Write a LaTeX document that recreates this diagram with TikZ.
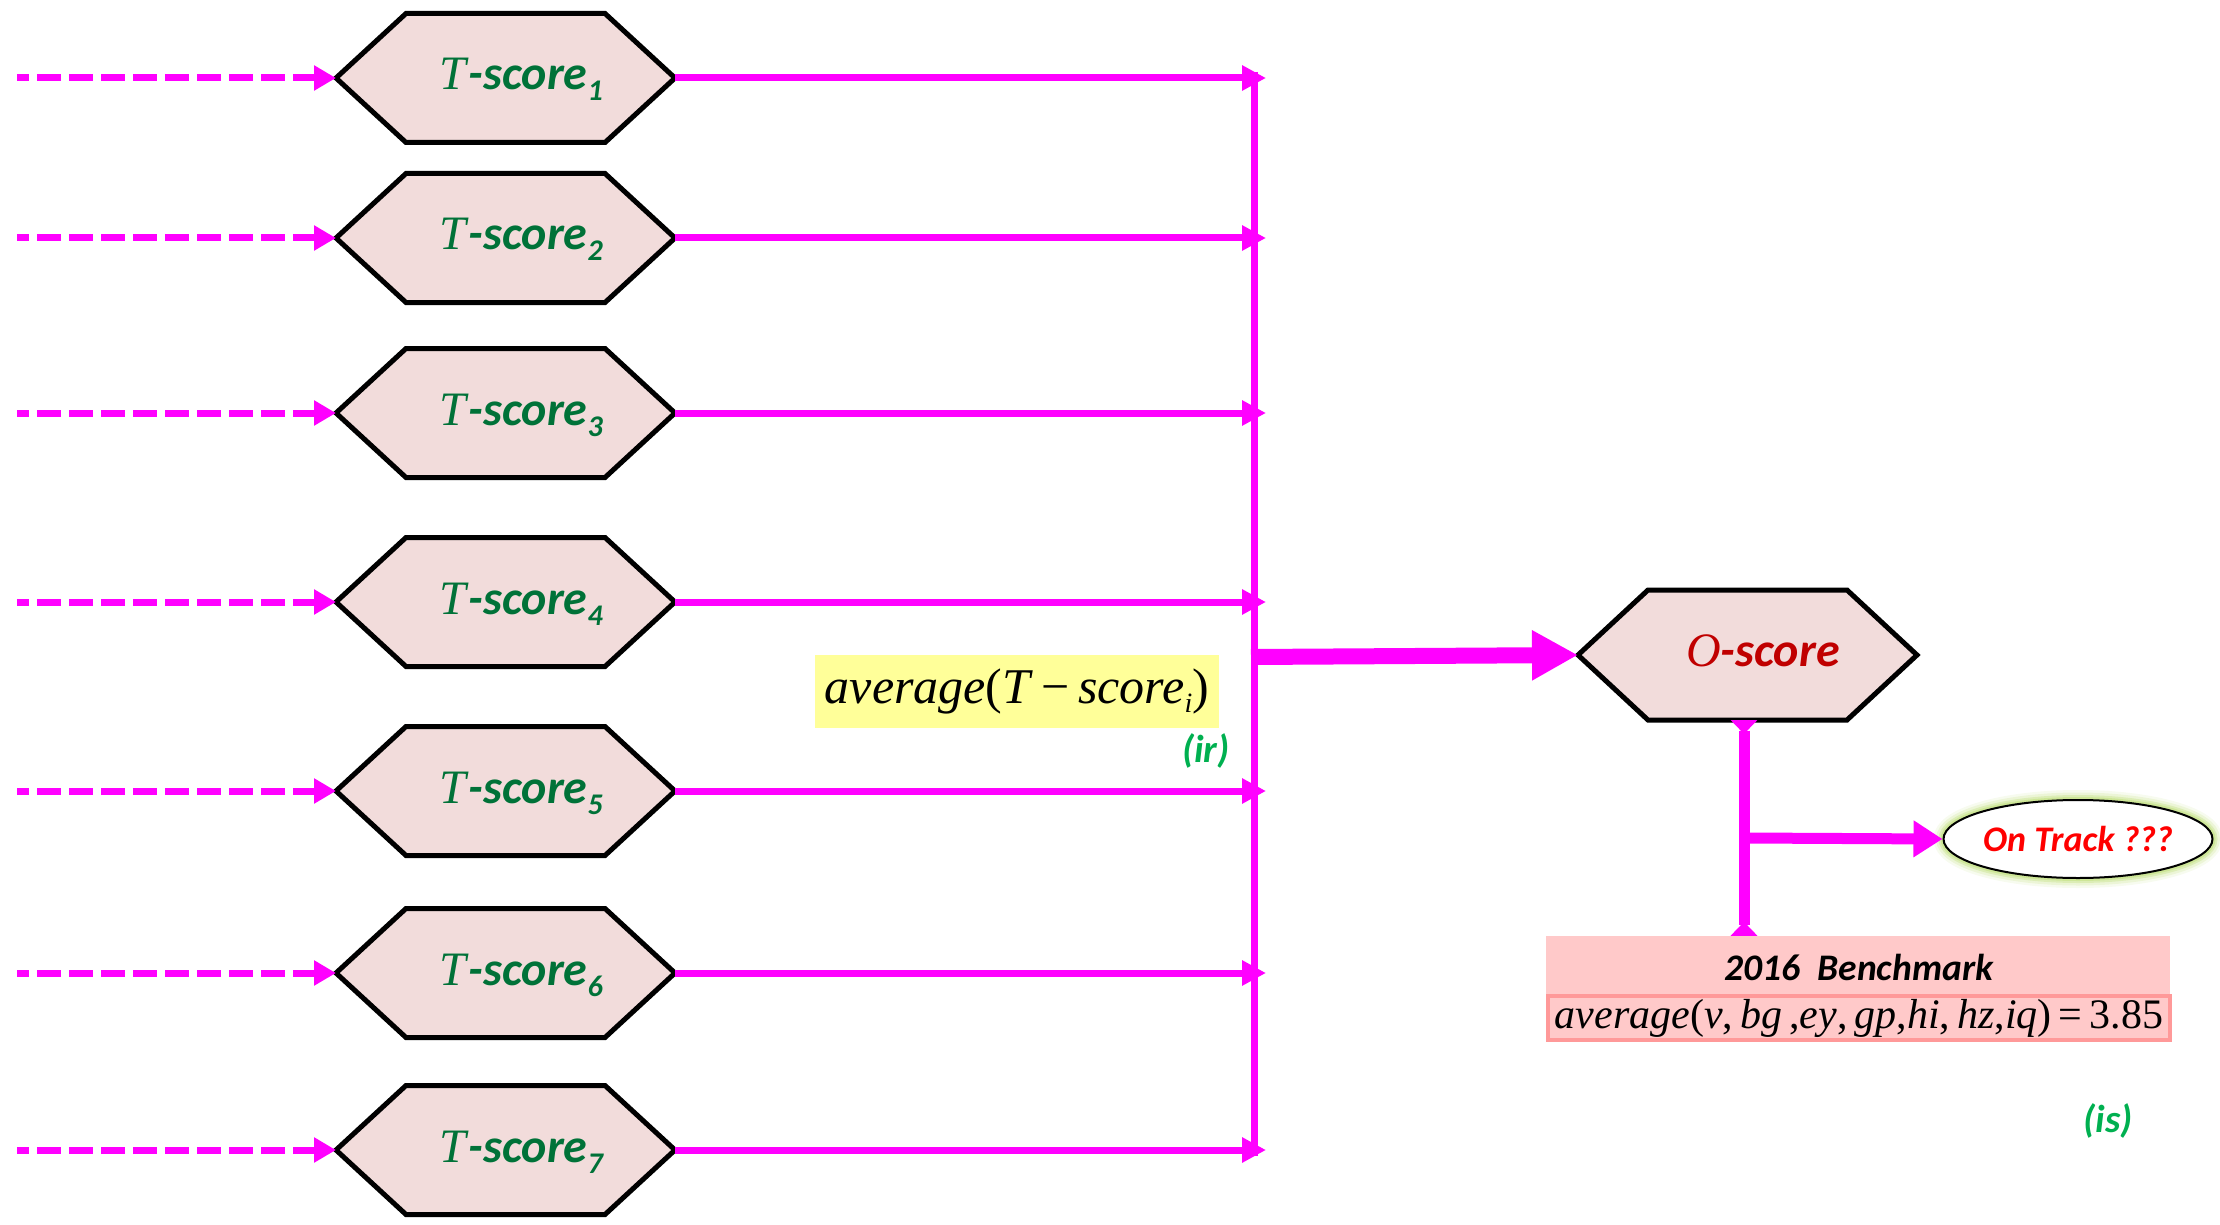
\documentclass[tikz,border=0pt]{standalone}
\usepackage{fontspec}
\setmainfont{Carlito}
\newfontfamily\tnr{Liberation Serif}
\usetikzlibrary{arrows.meta,shapes.geometric}
\definecolor{mag}{RGB}{255,0,255}
\definecolor{hexfill}{RGB}{242,220,219}
\definecolor{tgreen}{RGB}{0,114,56}
\definecolor{ored}{RGB}{192,0,0}
\definecolor{lgreen}{RGB}{0,176,80}
\definecolor{ylw}{RGB}{255,255,153}
\definecolor{bpink}{RGB}{255,201,201}
\definecolor{bborder}{RGB}{255,153,153}
\definecolor{glowc}{RGB}{190,222,120}
\newcommand\mi[1]{\textit{#1}}
\newcommand\tsc[1]{{\tnr\itshape T}\textbf{\textit{-score}}\raisebox{-11pt}{\fontsize{30}{30}\selectfont\bfseries\itshape #1}}
\newcommand\osc{{\tnr\itshape O}\textbf{\textit{-score}}}
\newcommand\hexa[6]{%
  \draw[hexbox] (#2-#4,#3) coordinate (#1w) -- (#2-#4+#5,#3-#6) -- (#2+#4-#5,#3-#6)
    -- (#2+#4,#3) coordinate (#1e) -- (#2+#4-#5,#3+#6) -- (#2-#4+#5,#3+#6) -- cycle;}
\tikzset{
  hexbox/.style={fill=hexfill, draw=black, line width=5pt, line join=miter},
  tlab/.style={text=tgreen, font=\fontsize{48}{50}\selectfont, anchor=base, inner sep=0pt},
  inarrow/.style={mag, line width=7pt, dash pattern=on 24pt off 8pt, dash phase=12pt, -{Triangle[length=22pt,width=24pt]}},
  outarrow/.style={mag, line width=7pt, -{Triangle[length=24pt,width=24pt]}},
  greenlab/.style={text=lgreen, font=\fontsize{39}{40}\selectfont\bfseries\itshape, inner sep=0pt}
}
\begin{document}
\begin{tikzpicture}[x=1pt,y=-1pt]
\useasboundingbox (0,0) rectangle (2220,1225);
% T-score hexagons
\foreach \i/\cy in {1/78,2/238,3/413,4/602,5/791,6/973,7/1150}{
  \hexa{h\i}{505.5}{\cy}{169.5}{70}{64.5}
  \node[tlab] (t\i) at (521,\cy+12) {\tsc{\i}};
  \coordinate (s\i) at (17,\cy);
  \coordinate (b\i) at (1266,\cy);
  \draw[inarrow] (s\i) -- (h\i w);
  \draw[outarrow] (h\i e) -- (b\i);
}
% bus
\coordinate (bt) at (1254,72);
\coordinate (bb) at (1254,1156);
\draw[mag, line width=7pt] (bt) -- (bb);
% O-score
\hexa{O}{1747.5}{655}{169.5}{70}{65}
\node[tlab, text=ored] (o) at (1763,666) {\osc};
\coordinate (bm) at (1251,657);
\draw[mag, line width=16pt, -{Triangle[length=46pt,width=47pt]}] (bm) -- (Ow);
% average label
\node[fill=ylw, minimum width=404pt, minimum height=73pt, inner sep=0pt] (avg) at (1017,691)
  {\tnr\fontsize{50}{52}\selectfont\mi{average}(\mi{T}\,−\,\mi{score}\raisebox{-9pt}{\fontsize{28}{28}\selectfont\mi{i}})};
\node[greenlab] (ir) at (1206,751) {(ir)};
% benchmark
\node[fill=bpink, minimum width=624pt, minimum height=106pt, inner sep=0pt] (bench) at (1858,989) {};
\node[font=\fontsize{37.5}{40}\selectfont\bfseries\itshape, inner sep=0pt] (btitle) at (1859,967) {2016\ \ Benchmark};
\node[fill=bpink, draw=bborder, line width=4pt, minimum width=622pt, minimum height=44pt, inner sep=0pt] (formula) at (1859,1018)
  {\tnr\fontsize{42}{44}\selectfont\mi{average}(\mi{v},\,\mi{bg}\,,\mi{ey},\,\mi{gp},\mi{hi},\,\mi{hz},\mi{iq})\,=\,3.85};
% on track ellipse
\foreach \w/\o in {20/0.12,15/0.2,10/0.35,6/0.5}{
  \draw[glowc, line width=\w pt, opacity=\o] (2078,839) ellipse [x radius=134.5pt, y radius=39pt];
}
\node[ellipse, draw=black, line width=2pt, fill=white, minimum width=269pt, minimum height=78pt, inner sep=0pt,
  text=red, font=\fontsize{36}{38}\selectfont\bfseries\itshape] (ot) at (2078,839) {On Track ???};
% vertical from O-score
\coordinate (os) at (1744,720);
\coordinate (br) at (1744,838);
\draw[mag, line width=11pt, {Triangle[reversed,length=14pt,width=26pt]}-{Triangle[reversed,length=14pt,width=26pt]}]
  (os) -- (os |- bench.north);
\draw[mag, line width=11pt, -{Triangle[length=29pt,width=35pt]}] (br) -- (ot.west);
\node[greenlab] (is) at (2108,1121) {(is)};
\end{tikzpicture}
\end{document}
